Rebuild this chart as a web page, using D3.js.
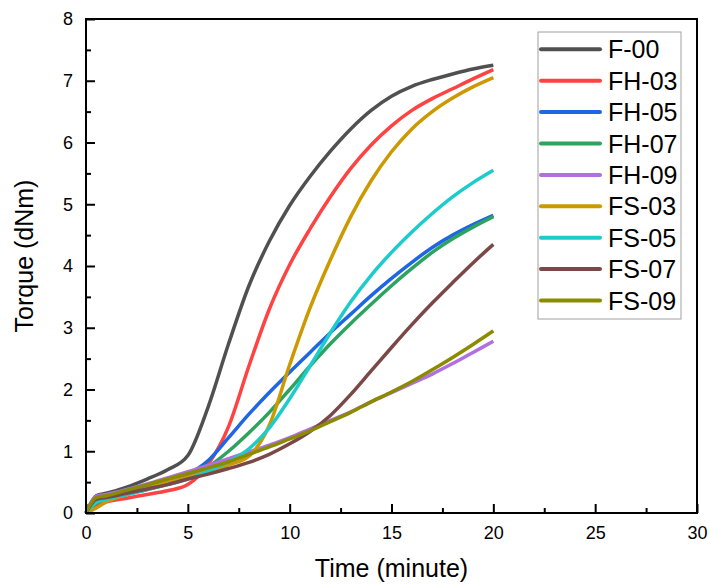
<html>
  <meta charset="utf-8" />
  <script src="https://d3js.org/d3.v7.min.js"></script>
  <style>
    body { margin: 0; background: #fff; }
    text { font-family: "Liberation Sans", Arial, sans-serif; fill: #000; }
  </style>
  <body>
    <svg width="709" height="587" id="chart"></svg>
    <script>
      // time in minutes, shared by all samples
      const times = [0, 0.5, 1, 2, 3, 4, 5, 6, 7, 8, 9, 10, 11, 12, 13, 14, 15, 16, 17, 18, 19, 20];

      const seriesNames = ["F-00", "FH-03", "FH-05", "FH-07", "FH-09", "FS-03", "FS-05", "FS-07", "FS-09"];

      const f00  = [0, 0.28, 0.32, 0.42, 0.55, 0.70, 0.93, 1.72, 2.74, 3.68, 4.40, 4.98, 5.45, 5.86, 6.22, 6.52, 6.75, 6.91, 7.02, 7.11, 7.19, 7.25];
      const fh03 = [0, 0.13, 0.18, 0.24, 0.30, 0.36, 0.46, 0.79, 1.40, 2.38, 3.30, 4.02, 4.60, 5.12, 5.58, 5.96, 6.27, 6.52, 6.71, 6.87, 7.03, 7.18];
      const fh05 = [0, 0.20, 0.25, 0.33, 0.42, 0.52, 0.63, 0.85, 1.22, 1.60, 1.95, 2.28, 2.60, 2.92, 3.22, 3.52, 3.80, 4.06, 4.30, 4.50, 4.67, 4.82];
      const fh07 = [0, 0.16, 0.22, 0.30, 0.38, 0.47, 0.58, 0.75, 1.00, 1.30, 1.63, 2.00, 2.38, 2.74, 3.07, 3.38, 3.68, 3.96, 4.22, 4.44, 4.63, 4.80];
      const fh09 = [0, 0.27, 0.30, 0.38, 0.47, 0.57, 0.67, 0.77, 0.88, 0.99, 1.10, 1.22, 1.36, 1.50, 1.64, 1.80, 1.95, 2.10, 2.25, 2.42, 2.60, 2.78];
      const fs03 = [0, 0.08, 0.18, 0.30, 0.40, 0.50, 0.58, 0.68, 0.78, 0.92, 1.42, 2.40, 3.32, 4.10, 4.80, 5.38, 5.85, 6.22, 6.50, 6.72, 6.90, 7.05];
      const fs05 = [0, 0.17, 0.22, 0.30, 0.38, 0.46, 0.55, 0.68, 0.83, 1.04, 1.38, 1.85, 2.38, 2.92, 3.42, 3.85, 4.22, 4.55, 4.85, 5.12, 5.35, 5.55];
      const fs07 = [0, 0.22, 0.25, 0.32, 0.39, 0.46, 0.55, 0.63, 0.72, 0.82, 0.95, 1.12, 1.32, 1.58, 1.92, 2.30, 2.68, 3.05, 3.40, 3.73, 4.05, 4.35];
      const fs09 = [0, 0.25, 0.28, 0.37, 0.46, 0.55, 0.64, 0.73, 0.83, 0.95, 1.07, 1.20, 1.33, 1.48, 1.63, 1.80, 1.96, 2.13, 2.32, 2.52, 2.73, 2.95];

      const xTicks = [0, 5, 10, 15, 20, 25, 30];
      const yTicks = [0, 1, 2, 3, 4, 5, 6, 7, 8];

      const colors = ["#505050", "#ff4242", "#1f66e5", "#2ca35e", "#b070e0", "#cc9900", "#1ccccc", "#7b4848", "#8b8b00"];

      function drawChart() {
        const allValues = [f00, fh03, fh05, fh07, fh09, fs03, fs05, fs07, fs09];
        const margin = { top: 19, right: 12, bottom: 74, left: 86 };
        const width = 709 - margin.left - margin.right;
        const height = 587 - margin.top - margin.bottom;

        const xScale = d3.scaleLinear().domain([0, 30]).range([0, width]);
        const yScale = d3.scaleLinear().domain([0, 8]).range([height, 0]);

        const svg = d3.select("#chart");
        const chart = svg
          .append("g")
          .attr("transform", `translate(${margin.left}, ${margin.top})`);

        // minor ticks
        chart
          .append("g")
          .attr("transform", `translate(0, ${height})`)
          .call(d3.axisBottom(xScale).tickValues(d3.range(2.5, 30, 5)).tickSize(-5).tickFormat(""))
          .call((g) => g.select(".domain").remove());
        chart
          .append("g")
          .call(d3.axisLeft(yScale).tickValues(d3.range(0.5, 8, 1)).tickSize(-5).tickFormat(""))
          .call((g) => g.select(".domain").remove());

        // major ticks
        const xAxis = chart
          .append("g")
          .attr("transform", `translate(0, ${height})`)
          .call(d3.axisBottom(xScale).tickValues(xTicks).tickSize(-9).tickPadding(13));
        const yAxis = chart
          .append("g")
          .call(d3.axisLeft(yScale).tickValues(yTicks).tickSize(-9).tickPadding(13));

        [xAxis, yAxis].forEach((a) => {
          a.select(".domain").remove();
          a.selectAll(".tick text").attr("font-size", 18).attr("font-family", null);
        });
        chart.selectAll(".tick line").attr("stroke", "#000").attr("stroke-width", 2);

        const line = d3
          .line()
          .x((d) => xScale(d[0]))
          .y((d) => yScale(d[1]))
          .curve(d3.curveMonotoneX);

        allValues.forEach((vals, i) => {
          chart
            .append("path")
            .datum(times.map((t, j) => [t, vals[j]]))
            .attr("fill", "none")
            .attr("stroke", colors[i])
            .attr("stroke-width", 3.5)
            .attr("stroke-linejoin", "round")
            .attr("d", line);
        });

        // frame
        chart
          .append("rect")
          .attr("width", width)
          .attr("height", height)
          .attr("fill", "none")
          .attr("stroke", "#000")
          .attr("stroke-width", 2);

        // legend
        const legend = svg.append("g").attr("transform", "translate(538, 32)");
        legend
          .append("rect")
          .attr("width", 143)
          .attr("height", 287)
          .attr("fill", "#fff")
          .attr("stroke", "#a0a0a0")
          .attr("stroke-width", 1);
        seriesNames.forEach((name, i) => {
          const y = 17.3 + i * 31.4;
          legend
            .append("line")
            .attr("x1", 3)
            .attr("x2", 62)
            .attr("y1", y)
            .attr("y2", y)
            .attr("stroke", colors[i])
            .attr("stroke-width", 4)
            .attr("stroke-linecap", "round");
          legend
            .append("text")
            .attr("x", 70)
            .attr("y", y)
            .attr("dy", "0.36em")
            .attr("font-size", 25)
            .text(name);
        });

        // axis titles
        svg
          .append("text")
          .attr("x", margin.left + width / 2)
          .attr("y", 577)
          .attr("text-anchor", "middle")
          .attr("font-size", 25)
          .text("Time (minute)");

        svg
          .append("text")
          .attr("transform", "translate(33, 256) rotate(-90)")
          .attr("text-anchor", "middle")
          .attr("font-size", 25)
          .text("Torque (dNm)");
      }

      drawChart();
    </script>
  </body>
</html>
